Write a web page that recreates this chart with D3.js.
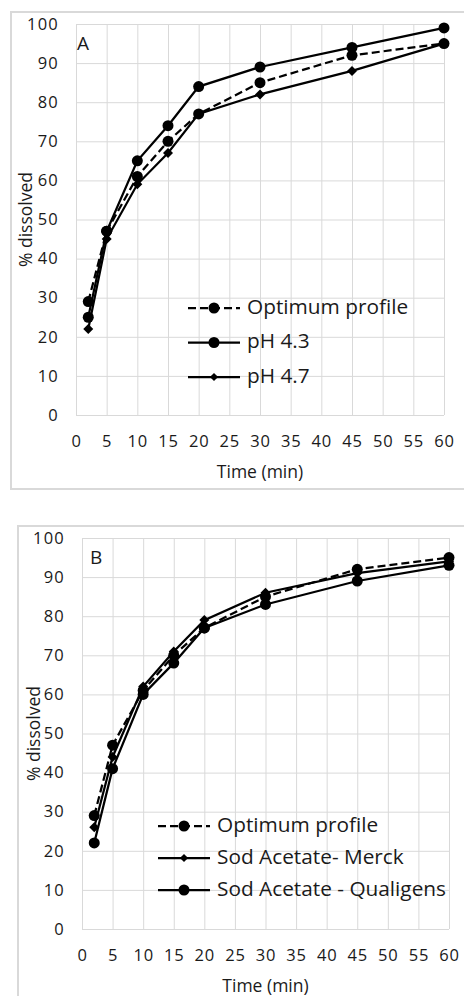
<!DOCTYPE html>
<html>
<head>
<meta charset="utf-8">
<script src="https://cdn.jsdelivr.net/npm/d3@7"></script>
<style>
  html, body { margin: 0; padding: 0; background: #fff; }
  svg { display: block; }
  text { font-family: "Open Sans", sans-serif; fill: #1a1a1a; }
</style>
</head>
<body>
<svg id="chart" width="464" height="996"></svg>
<script>
// ---------- DATA ----------
const timePoints = [2, 5, 10, 15, 20, 30, 45, 60];
const xTicks = [0, 5, 10, 15, 20, 25, 30, 35, 40, 45, 50, 55, 60];
const yTicks = [0, 10, 20, 30, 40, 50, 60, 70, 80, 90, 100];

// Panel A
const panelALabel = "A";
const seriesANames = ["Optimum profile", "pH 4.3", "pH 4.7"];
const optimumA = [29, 47, 61, 70, 77, 85, 92, 95];
const pH43 = [25, 47, 65, 74, 84, 89, 94, 99];
const pH47 = [22, 45, 59, 67, 77, 82, 88, 95];

// Panel B
const panelBLabel = "B";
const seriesBNames = ["Optimum profile", "Sod Acetate- Merck", "Sod Acetate - Qualigens"];
const optimumB = [29, 47, 61, 70, 77, 85, 92, 95];
const merck = [26, 44, 62, 71, 79, 86, 91, 94];
const qualigens = [22, 41, 60, 68, 77, 83, 89, 93];

const xLabel = "Time (min)";
const yLabel = "% dissolved";

// ---------- DRAW ----------
const svg = d3.select("#chart");
const FONT = "'Open Sans', sans-serif";

function drawPanel(cfg) {
  const g = svg.append("g");
  g.append("rect")
    .attr("x", cfg.frame[0]).attr("y", cfg.frame[1])
    .attr("width", cfg.frame[2]).attr("height", cfg.frame[3])
    .attr("fill", "none").attr("stroke", "#d9d9d9").attr("stroke-width", 2);

  const x = d3.scaleLinear().domain([0, 60]).range([cfg.left, cfg.right]);
  const y = d3.scaleLinear().domain([0, 100]).range([cfg.bottom, cfg.top]);
  const w = cfg.right - cfg.left, h = cfg.bottom - cfg.top;

  const ya = g.append("g").attr("transform", `translate(${cfg.left},0)`)
    .call(d3.axisLeft(y).tickValues(yTicks).tickSize(-w).tickPadding(17).tickFormat(d3.format("d")));
  ya.select(".domain").remove();
  ya.selectAll("line").attr("stroke", "#d9d9d9").attr("stroke-width", 1);
  ya.selectAll("text").attr("font-size", 16.5).attr("fill", "#1a1a1a")
    .attr("letter-spacing", 1.2).style("font-family", FONT);

  const xa = g.append("g").attr("transform", `translate(0,${cfg.bottom})`)
    .call(d3.axisBottom(x).tickValues(xTicks).tickSize(-h).tickPadding(20).tickFormat(d3.format("d")));
  xa.select(".domain").remove();
  xa.selectAll("line").attr("stroke", "#d9d9d9").attr("stroke-width", 1);
  xa.selectAll("text").attr("font-size", 16.5).attr("fill", "#1a1a1a")
    .attr("letter-spacing", 0.8).style("font-family", FONT);

  g.append("text").attr("x", (cfg.left + cfg.right) / 2).attr("y", cfg.bottom + 58)
    .attr("text-anchor", "middle").attr("dominant-baseline", "middle")
    .attr("font-size", 17.5).text(xLabel);
  g.append("text")
    .attr("transform", `translate(${cfg.left - cfg.yTitleOff},${(cfg.top + cfg.bottom) / 2}) rotate(-90)`)
    .attr("text-anchor", "middle").attr("dominant-baseline", "middle")
    .attr("font-size", 17.5).text(yLabel);

  g.append("text").attr("x", cfg.left + cfg.labelDx).attr("y", cfg.top + 26)
    .attr("font-size", 19).text(cfg.label);

  const line = d3.line().x((d, i) => x(timePoints[i])).y(d => y(d));
  const diamond = s => d3.symbol().type(d3.symbolSquare).size(s)();

  cfg.drawOrder.forEach(idx => {
    const s = cfg.series[idx];
    g.append("path").datum(s.values).attr("d", line)
      .attr("fill", "none").attr("stroke", "#000").attr("stroke-width", 2.25)
      .attr("stroke-dasharray", s.dashed ? "8,4" : null);
    const mk = g.append("g");
    s.values.forEach((v, i) => {
      if (s.marker === "circle") {
        mk.append("circle").attr("cx", x(timePoints[i])).attr("cy", y(v)).attr("r", 5.5).attr("fill", "#000");
      } else {
        mk.append("path").attr("d", diamond(50))
          .attr("transform", `translate(${x(timePoints[i])},${y(v)}) rotate(45)`).attr("fill", "#000");
      }
    });
  });

  const lg = g.append("g");
  cfg.series.forEach((s, i) => {
    const ly = cfg.legendY + i * cfg.legendStep;
    lg.append("line").attr("x1", cfg.legendX).attr("x2", cfg.legendX + 52)
      .attr("y1", ly).attr("y2", ly).attr("stroke", "#000").attr("stroke-width", 2.25)
      .attr("stroke-dasharray", s.dashed ? "8,4" : null);
    if (s.marker === "circle") {
      lg.append("circle").attr("cx", cfg.legendX + 26).attr("cy", ly).attr("r", 5.5).attr("fill", "#000");
    } else {
      lg.append("path").attr("d", diamond(34))
        .attr("transform", `translate(${cfg.legendX + 26},${ly}) rotate(45)`).attr("fill", "#000");
    }
    lg.append("text").attr("x", cfg.legendX + 59).attr("y", ly)
      .attr("dominant-baseline", "middle").attr("font-size", 20.8).text(s.name);
  });
}

drawPanel({
  frame: [11, 12, 470, 477],
  left: 76, right: 444, top: 24, bottom: 415,
  yTitleOff: 49, labelDx: 1, label: panelALabel,
  legendX: 188, legendY: 308, legendStep: 34.5,
  series: [
    { name: seriesANames[0], values: optimumA, marker: "circle", dashed: true },
    { name: seriesANames[1], values: pH43, marker: "circle", dashed: false },
    { name: seriesANames[2], values: pH47, marker: "diamond", dashed: false }
  ],
  drawOrder: [2, 1, 0]
});

drawPanel({
  frame: [18, 526, 460, 480],
  left: 82, right: 449, top: 538, bottom: 929,
  yTitleOff: 47, labelDx: 8, label: panelBLabel,
  legendX: 158, legendY: 826, legendStep: 32,
  series: [
    { name: seriesBNames[0], values: optimumB, marker: "circle", dashed: true },
    { name: seriesBNames[1], values: merck, marker: "diamond", dashed: false },
    { name: seriesBNames[2], values: qualigens, marker: "circle", dashed: false }
  ],
  drawOrder: [2, 1, 0]
});
</script>
</body>
</html>
